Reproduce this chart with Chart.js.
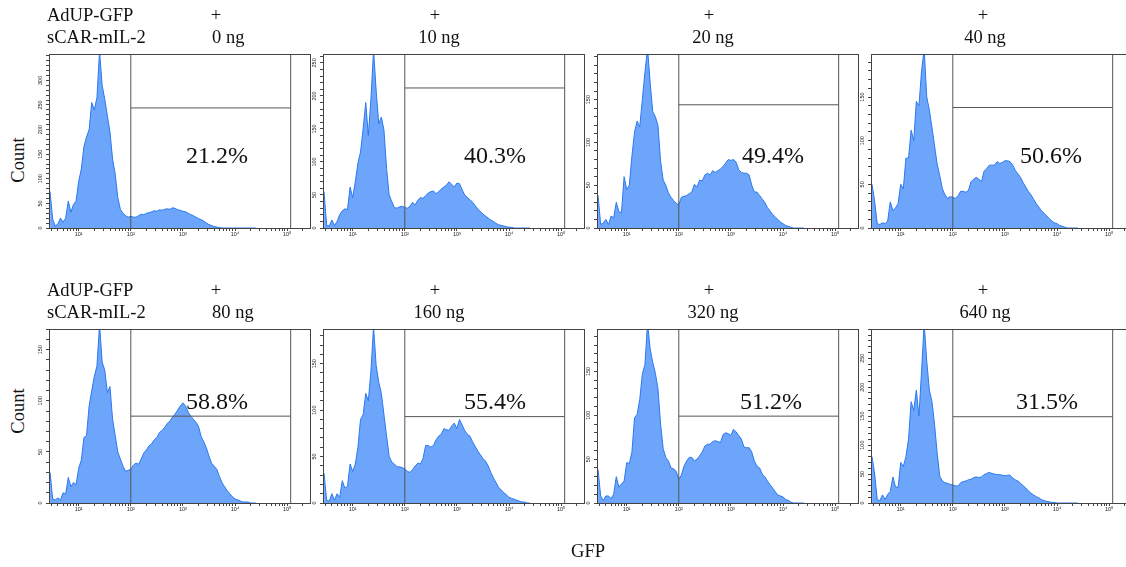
<!DOCTYPE html>
<html>
<head>
<meta charset="utf-8">
<script src="https://cdn.jsdelivr.net/npm/chart.js@4.4.1/dist/chart.umd.min.js"></script>
<style>
  html, body { margin: 0; padding: 0; background: #fff; }
  body { width: 1126px; height: 567px; position: relative; overflow: hidden;
         font-family: "Liberation Serif", "Times New Roman", serif; color: #111; }
  .t { position: absolute; white-space: nowrap; font-size: 18.5px; line-height: 20px; will-change: transform; }
  .mid { width: 120px; margin-left: -60px; text-align: center; }
  .pct { position: absolute; white-space: nowrap; font-size: 24px; line-height: 24px; width: 120px; margin-left: -60px; margin-top: -12px; text-align: center; will-change: transform; }
  .rot { position: absolute; white-space: nowrap; font-size: 18.5px; line-height: 20px; width: 80px; margin-left: -40px; margin-top: -10px; text-align: center; transform: rotate(-90deg); }
  canvas { position: absolute; }
</style>
</head>
<body>
<script>
/* ---------------- Data ---------------- */
// bin centres, log10(GFP)
const logBins = [0.45,0.50,0.55,0.60,0.65,0.70,0.75,0.80,0.85,0.90,0.95,1.00,1.05,1.10,1.15,1.20,1.25,1.30,1.35,1.40,
  1.45,1.50,1.55,1.60,1.65,1.70,1.75,1.80,1.85,1.90,1.95,2.00,2.05,2.10,2.15,2.20,2.25,2.30,2.35,2.40,
  2.45,2.50,2.55,2.60,2.65,2.70,2.75,2.80,2.85,2.90,2.95,3.00,3.05,3.10,3.15,3.20,3.25,3.30,3.35,3.40,
  3.45,3.50,3.55,3.60,3.65,3.70,3.75,3.80,3.85,3.90,3.95,4.00,4.05,4.10,4.15,4.20,4.25,4.30,4.35,4.40];

const counts0ng = [74,18,4,8,20,12,20,55,32,48, 55,95,120,165,185,200,255,240,265,360,
  290,262,228,195,140,110,62,38,30,25, 22,24,22,22,25,28,27,30,31,33,
  35,34,37,36,38,39,38,41,40,37, 36,34,33,30,27,25,22,19,17,14,
  10,7,5,3,2,1,0,0,0,0, 0,0,0,0,0,0,0,0,0,0];
const counts10ng = [55,4,3,12,4,10,20,26,29,28, 62,46,70,98,115,150,190,140,195,270,
  208,158,168,148,90,50,40,31,30,32, 33,31,30,33,39,35,42,46,45,49,
  53,55,56,52,55,59,62,65,70,66, 62,68,67,58,50,46,43,39,34,29,
  25,21,18,15,12,10,7,5,4,3, 2,1,1,0,0,0,0,0,0,0];
const counts20ng = [38,4,6,10,4,14,12,30,19,18, 60,45,50,84,112,125,118,150,182,210,
  170,136,130,120,78,56,50,41,36,32, 29,27,36,37,38,40,42,51,48,56,
  55,62,64,62,67,65,67,69,72,76, 80,79,80,77,68,65,64,64,62,50,
  42,42,38,34,30,24,20,16,13,10, 7,5,3,2,1,0,0,0,0,0];
const counts40ng = [50,30,5,4,6,5,8,30,20,23, 28,50,45,80,80,112,100,145,140,180,
  205,150,135,115,94,73,60,45,38,34, 36,35,34,37,42,42,41,43,53,56,
  58,56,53,65,68,72,72,72,76,74, 75,77,77,76,72,66,62,58,52,47,
  42,38,33,28,24,20,17,14,11,8, 6,5,3,2,1,0,0,0,0,0];
const counts80ng = [30,4,3,5,3,10,9,25,16,20, 18,34,42,64,66,95,110,124,134,175,
  138,130,108,114,82,66,50,43,36,31, 32,33,37,39,38,43,49,52,56,58,
  62,64,69,71,74,78,80,84,87,91, 95,98,95,89,85,82,79,75,65,60,
  54,46,39,36,33,26,20,16,12,9, 6,4,3,2,1,1,1,0,0,0];
const counts160ng = [32,3,2,10,3,10,6,24,16,18, 42,34,42,60,90,95,118,110,142,190,
  148,130,118,95,72,50,44,42,39,39, 38,37,34,33,36,40,43,42,48,62,
  62,60,62,68,72,74,80,79,78,83, 86,80,90,84,78,74,72,66,61,56,
  52,48,45,40,33,27,22,17,14,11, 9,6,5,4,3,2,1,1,0,0];
const counts320ng = [38,8,3,8,8,5,10,30,18,22, 25,46,45,58,97,101,118,147,158,205,
  176,160,148,130,90,62,52,48,40,39, 36,27,32,42,48,52,52,48,50,54,
  58,65,67,67,70,71,70,69,78,80, 79,77,84,81,77,73,64,63,63,58,
  48,42,40,33,30,25,21,17,13,9, 8,7,4,3,1,0,0,0,0,0];
const counts640ng = [80,50,6,4,14,6,15,20,45,28, 27,70,63,80,110,175,160,195,150,228,
  310,245,195,175,135,86,46,38,35,34, 32,31,30,29,35,37,38,40,41,44,
  45,44,45,49,51,53,51,50,49,49, 48,47,48,48,43,40,38,34,30,26,
  21,17,14,11,9,6,4,3,2,1, 1,0,0,0,0,0,0,0,0,0];

const panelCounts = [counts0ng, counts10ng, counts20ng, counts40ng, counts80ng, counts160ng, counts320ng, counts640ng];
const doses = ['0 ng', '10 ng', '20 ng', '40 ng', '80 ng', '160 ng', '320 ng', '640 ng'];
const percents = ['21.2%', '40.3%', '49.4%', '50.6%', '58.8%', '55.4%', '51.2%', '31.5%'];
const yMax = [353, 263, 203, 199, 170, 187, 198, 300];
const gateLevel = [244, 212, 144, 138, 85, 93, 99, 149];
const gateLow = 100, gateHigh = 117000;
const xMin = 2.69, xMax = 275000;
const decadeLabels = ['10⁰', '10¹', '10²', '10³', '10⁴', '10⁵'];

/* ---------------- Layout ---------------- */
const PANEL_LEFT = [49, 323, 597, 871];
const ROW_TOP = [52, 327];
const PLOT_W = 261, PLOT_H = 176;
const AXIS_W = 30, AXIS_H = 22, PAD_T = 2, PAD_R = 4;
const HEAD_TOP = [[5, 27], [280, 302]];
const PLUS_X = [216, 435, 709, 983];
const DOSE_X = [212, 439, 713, 985];   // first column is left aligned
const PCT_DX = [[168, 172, 176, 180], [168, 172, 174, 176]];
const PCT_Y = [155, 401];

Chart.defaults.font.family = "'Liberation Sans', Arial, sans-serif";
Chart.defaults.animation = false;

function addText(cls, txt, x, y) {
  const el = document.createElement('div');
  el.className = cls; el.textContent = txt;
  el.style.left = x + 'px'; el.style.top = y + 'px';
  document.body.appendChild(el);
  return el;
}

// minor + major ticks of the log axis
const xTickValues = [];
for (let d = 0; d <= 5; d++) for (let m = 1; m <= 9; m++) {
  const v = m * Math.pow(10, d);
  if (v >= xMin && v <= xMax) xTickValues.push(v);
}

const framePlugin = {
  id: 'frame',
  afterDraw(chart) {
    const { ctx, chartArea: a } = chart;
    ctx.save();
    ctx.strokeStyle = '#444'; ctx.lineWidth = 1;
    ctx.strokeRect(Math.round(a.left) + 0.5, Math.round(a.top) + 0.5, Math.round(a.right - a.left), Math.round(a.bottom - a.top));
    ctx.restore();
  }
};

function makePanel(i) {
  const row = Math.floor(i / 4), col = i % 4;
  const cv = document.createElement('canvas');
  cv.width = AXIS_W + PLOT_W + PAD_R;
  cv.height = PAD_T + PLOT_H + AXIS_H;
  cv.style.left = (PANEL_LEFT[col] - AXIS_W) + 'px';
  cv.style.top = (ROW_TOP[row] - PAD_T) + 'px';
  document.body.appendChild(cv);

  const max = yMax[i];
  const hist = logBins.map((l, k) => ({ x: Math.pow(10, l), y: panelCounts[i][k] }));
  const gateLine = pts => ({ data: pts, borderColor: '#555', borderWidth: 1, pointRadius: 0, fill: false, order: 0 });

  new Chart(cv, {
    type: 'line',
    data: {
      datasets: [
        gateLine([{ x: gateLow, y: 0 }, { x: gateLow, y: max }]),
        gateLine([{ x: gateHigh, y: 0 }, { x: gateHigh, y: max }]),
        gateLine([{ x: gateLow, y: gateLevel[i] }, { x: gateHigh, y: gateLevel[i] }]),
        { data: hist, borderColor: '#2b79ee', borderWidth: 1, backgroundColor: '#6ca5fa',
          fill: 'origin', pointRadius: 0, tension: 0, order: 1 }
      ]
    },
    options: {
      responsive: false,
      layout: { padding: { top: PAD_T, right: PAD_R, left: 0, bottom: 0 } },
      plugins: { legend: { display: false }, tooltip: { enabled: false } },
      scales: {
        x: {
          type: 'logarithmic', min: xMin, max: xMax,
          afterBuildTicks: s => { s.ticks = xTickValues.map(v => ({ value: v })); },
          afterFit: s => { s.height = AXIS_H; },
          ticks: {
            autoSkip: false, minRotation: 0, maxRotation: 0, padding: 0,
            font: { size: 5.5 }, color: '#222',
            callback: v => {
              const p = Math.log10(v);
              return Math.abs(p - Math.round(p)) < 1e-9 ? decadeLabels[Math.round(p)] : '';
            }
          },
          grid: { drawOnChartArea: false, drawTicks: true, tickLength: 3, tickColor: '#444' },
          border: { display: true, color: '#444' }
        },
        y: {
          type: 'linear', min: 0, max: max,
          afterBuildTicks: s => { const t = []; for (let v = 0; v <= max; v += 10) t.push({ value: v }); s.ticks = t; },
          afterFit: s => { s.width = AXIS_W; },
          ticks: {
            autoSkip: false, minRotation: 90, maxRotation: 90, crossAlign: 'center', padding: 1,
            font: { size: 5.5 }, color: '#222',
            callback: v => (v % 50 === 0 && v <= max - 4) ? String(v) : ''
          },
          grid: { drawOnChartArea: false, drawTicks: true, tickLength: 3, tickColor: '#444' },
          border: { display: true, color: '#444' }
        }
      }
    },
    plugins: [framePlugin]
  });

  addText('pct', percents[i], PANEL_LEFT[col] + PCT_DX[row][col], PCT_Y[row]);
  addText('t mid', '+', PLUS_X[col], HEAD_TOP[row][0]);
  addText(col === 0 ? 't' : 't mid', doses[i], DOSE_X[col], HEAD_TOP[row][1]);
}

for (let row = 0; row < 2; row++) {
  addText('t', 'AdUP-GFP', 47, HEAD_TOP[row][0]);
  addText('t', 'sCAR-mIL-2', 47, HEAD_TOP[row][1]);
}
addText('rot', 'Count', 18, 160);
addText('rot', 'Count', 18, 411);
addText('pct', 'GFP', 588, 551).style.fontSize = '18.5px';

for (let i = 0; i < 8; i++) makePanel(i);
</script>
</body>
</html>
